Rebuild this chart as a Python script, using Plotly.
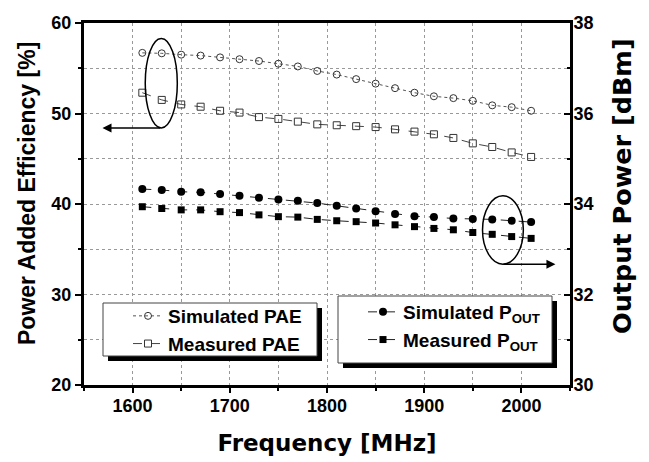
import plotly.graph_objects as go

freq = [1610, 1630, 1650, 1670, 1690, 1710, 1730, 1750, 1770, 1790, 1810,
        1830, 1850, 1870, 1890, 1910, 1930, 1950, 1970, 1990, 2010]
sim_pae = [56.7, 56.65, 56.5, 56.4, 56.2, 56.0, 55.8, 55.5, 55.2, 54.7, 54.3,
           53.8, 53.3, 52.8, 52.3, 51.9, 51.7, 51.4, 50.9, 50.7, 50.3]
meas_pae = [52.3, 51.5, 51.0, 50.75, 50.3, 50.1, 49.6, 49.4, 49.1, 48.8, 48.7,
            48.6, 48.5, 48.25, 48.0, 47.7, 47.3, 46.7, 46.3, 45.7, 45.2]
sim_pout = [34.33, 34.31, 34.27, 34.26, 34.22, 34.18, 34.14, 34.10, 34.07, 34.02, 33.96,
            33.90, 33.84, 33.78, 33.73, 33.71, 33.68, 33.67, 33.66, 33.63, 33.60]
meas_pout = [33.94, 33.90, 33.87, 33.87, 33.83, 33.81, 33.76, 33.72, 33.71, 33.66, 33.63,
             33.61, 33.58, 33.54, 33.50, 33.46, 33.43, 33.37, 33.33, 33.28, 33.24]

W, H = 649, 462
L, R, T, B = 84, 79, 23, 77
PW, PH = W - L - R, H - T - B

def px(x):
    return (x - L) / PW

def py(y):
    return (H - B - y) / PH

TICKFONT = dict(family="Liberation Sans, Arial", size=18, color="black", weight="bold")

fig = go.Figure()
fig.add_trace(go.Scatter(
    x=freq, y=sim_pae, name="Simulated PAE", mode="lines+markers",
    line=dict(color="#555", width=1, dash="dot"),
    marker=dict(symbol="circle-open", size=7, color="#333", line=dict(width=1)),
    legend="legend"))
fig.add_trace(go.Scatter(
    x=freq, y=meas_pae, name="Measured PAE", mode="lines+markers",
    line=dict(color="#444", width=1, dash="dash"),
    marker=dict(symbol="square-open", size=7, color="#333", line=dict(width=1)),
    legend="legend"))
fig.add_trace(go.Scatter(
    x=freq, y=sim_pout, name="Simulated P<sub>OUT</sub>", mode="lines+markers",
    line=dict(color="#222", width=1, dash="dash"),
    marker=dict(symbol="circle", size=8, color="black"),
    yaxis="y2", legend="legend2"))
fig.add_trace(go.Scatter(
    x=freq, y=meas_pout, name="Measured P<sub>OUT</sub>", mode="lines+markers",
    line=dict(color="#222", width=1, dash="dash"),
    marker=dict(symbol="square", size=7, color="black"),
    yaxis="y2", legend="legend2"))

legend_common = dict(
    bgcolor="rgba(0,0,0,0)", borderwidth=0,
    font=dict(family="Liberation Sans, Arial", size=19, color="black", weight="bold"),
    xanchor="left", yanchor="top", itemsizing="trace", tracegroupgap=0)

shapes = [
    # legend box shadows and boxes
    dict(type="rect", xref="paper", yref="paper", layer="above",
         x0=px(108), x1=px(322), y0=py(361), y1=py(308),
         fillcolor="black", line=dict(width=0)),
    dict(type="rect", xref="paper", yref="paper", layer="above",
         x0=px(103), x1=px(317), y0=py(356), y1=py(303),
         fillcolor="white", line=dict(color="#444", width=1)),
    dict(type="rect", xref="paper", yref="paper", layer="above",
         x0=px(343), x1=px(557), y0=py(368), y1=py(301),
         fillcolor="black", line=dict(width=0)),
    dict(type="rect", xref="paper", yref="paper", layer="above",
         x0=px(338), x1=px(552), y0=py(363), y1=py(296),
         fillcolor="white", line=dict(color="#444", width=1)),
    # ellipse marking PAE curves
    dict(type="circle", xref="x", yref="y", x0=1613, x1=1646, y0=48.4, y1=58.3,
         line=dict(color="black", width=1.5)),
    # ellipse marking Pout curves
    dict(type="circle", xref="x", yref="y2", x0=1960, x1=2002, y0=32.67, y1=34.18,
         line=dict(color="black", width=1.5)),
]

annotations = [
    dict(x=1569, y=48.4, ax=1630, ay=48.4, xref="x", yref="y", axref="x", ayref="y",
         showarrow=True, arrowhead=2, arrowsize=1.2, arrowwidth=1.5, arrowcolor="black", text=""),
    dict(x=2035, y=32.67, ax=1980, ay=32.67, xref="x", yref="y2", axref="x", ayref="y2",
         showarrow=True, arrowhead=2, arrowsize=1.2, arrowwidth=1.5, arrowcolor="black", text=""),
    dict(text="Power Added Efficiency [%]", textangle=-90, showarrow=False,
         xref="paper", yref="paper", x=px(27), y=py(194), xanchor="center", yanchor="middle",
         font=dict(family="Liberation Sans, Arial", size=23, color="black", weight="bold")),
    dict(text="Output Power [dBm]", textangle=-90, showarrow=False,
         xref="paper", yref="paper", x=px(622), y=py(186), xanchor="center", yanchor="middle",
         font=dict(family="DejaVu Sans", size=25.5, color="black", weight="bold")),
]

fig.update_layout(
    width=W, height=H,
    margin=dict(l=L, r=R, t=T, b=B, autoexpand=False),
    paper_bgcolor="white", plot_bgcolor="white",
    font=TICKFONT,
    showlegend=True,
    legend=dict(x=px(128), y=py(297), **legend_common),
    legend2=dict(x=px(363), y=py(293), **legend_common),
    shapes=shapes,
    annotations=annotations,
    xaxis=dict(
        range=[1550, 2050], dtick=100, tick0=1600,
        showline=True, linewidth=3, linecolor="black", mirror=True,
        ticks="outside", ticklen=5, tickwidth=2, tickcolor="black",
        ticklabelstandoff=-3,
        showgrid=True, gridcolor="#999", griddash="dot", gridwidth=1,
        minor=dict(dtick=50, tick0=1550, ticks="outside", ticklen=3, tickwidth=2,
                   tickcolor="black", showgrid=True, gridcolor="#999", griddash="dot"),
        tickfont=TICKFONT, zeroline=False,
        title=dict(text="Frequency [MHz]", standoff=21,
                   font=dict(family="DejaVu Sans", size=23, color="black", weight="bold")),
        automargin=False),
    yaxis=dict(
        range=[20, 60], dtick=10,
        showline=True, linewidth=3, linecolor="black",
        ticks="outside", ticklen=6, tickwidth=2, tickcolor="black",
        showgrid=True, gridcolor="#999", griddash="dot", gridwidth=1,
        minor=dict(dtick=5, ticks="outside", ticklen=3, tickwidth=2,
                   tickcolor="black", showgrid=True, gridcolor="#999", griddash="dot"),
        tickfont=TICKFONT, zeroline=False, automargin=False),
    yaxis2=dict(
        range=[30, 38], dtick=2, overlaying="y", side="right",
        showline=True, linewidth=3, linecolor="black",
        ticks="inside", ticklen=6, tickwidth=2, tickcolor="black",
        ticklabelstandoff=-3,
        showgrid=False,
        minor=dict(dtick=1, ticks="inside", ticklen=3, tickwidth=2, tickcolor="black"),
        tickfont=TICKFONT, zeroline=False, automargin=False),
)

fig.write_html("out.html")
